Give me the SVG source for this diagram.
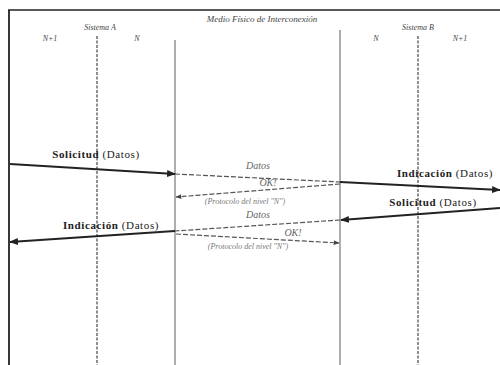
<svg xmlns="http://www.w3.org/2000/svg" width="500" height="365" viewBox="0 0 500 365">
<defs>
<style>
.t{font-family:"Liberation Serif",serif;fill:#333}
.i{font-style:italic;font-size:8px;fill:#444}
.h{font-family:"Liberation Serif",serif;font-style:italic;font-size:9px;fill:#444}
.m{font-family:"Liberation Serif",serif;font-style:italic;font-size:10px;fill:#666}
.s{font-family:"Liberation Serif",serif;font-style:italic;font-size:8px;fill:#777}
.lab{font-family:"Liberation Serif",serif;font-size:11px;fill:#222;letter-spacing:0.6px}
.thick{stroke:#222;stroke-width:2.2;fill:none}
.dash{stroke:#555;stroke-width:1.2;stroke-dasharray:5 2;fill:none}
.solid{stroke:#777;stroke-width:1.2}
.dot{stroke:#555;stroke-width:1.3;stroke-dasharray:3 1.5}
</style>
<marker id="a" viewBox="0 0 10 10" refX="9" refY="5" markerWidth="4" markerHeight="4" orient="auto"><path d="M0,1 L10,5 L0,9 z" fill="#222"/></marker>
<marker id="b" viewBox="0 0 10 10" refX="9" refY="5" markerWidth="5" markerHeight="5" orient="auto"><path d="M0,1 L10,5 L0,9 z" fill="#444"/></marker>
</defs>
<rect width="500" height="365" fill="#fff"/>
<g id="frame">
<line x1="8" y1="10" x2="500" y2="10" stroke="#222" stroke-width="1.5"/>
<line x1="9" y1="10" x2="9" y2="365" stroke="#222" stroke-width="1.8"/>
</g>
<g id="titles">
<text class="h" x="262" y="22" text-anchor="middle">Medio Físico de Interconexión</text>
<text class="t i" x="100" y="30" text-anchor="middle">Sistema A</text>
<text class="t i" x="50" y="41" text-anchor="middle">N+1</text>
<text class="t i" x="137" y="41" text-anchor="middle">N</text>
<text class="t i" x="418" y="30" text-anchor="middle">Sistema B</text>
<text class="t i" x="376" y="41" text-anchor="middle">N</text>
<text class="t i" x="460" y="41" text-anchor="middle">N+1</text>
</g>
<g id="lifelines">
<line class="dot" x1="97" y1="36" x2="97" y2="365"/>
<line class="solid" x1="175" y1="40" x2="175" y2="365"/>
<line class="solid" x1="340" y1="30" x2="340" y2="365"/>
<line class="dot" x1="418" y1="36" x2="418" y2="365"/>
</g>
<g id="connectors">
<line class="thick" x1="10" y1="164" x2="175" y2="174" marker-end="url(#a)"/>
<line class="dash" x1="175" y1="174" x2="340" y2="182"/>
<line class="thick" x1="340" y1="182" x2="500" y2="190" marker-end="url(#a)"/>
<line class="dash" x1="340" y1="184" x2="176" y2="197" marker-end="url(#b)"/>
<line class="thick" x1="500" y1="208" x2="341" y2="220" marker-end="url(#a)"/>
<line class="dash" x1="340" y1="220" x2="175" y2="231"/>
<line class="thick" x1="175" y1="231" x2="10" y2="242" marker-end="url(#a)"/>
<line class="dash" x1="176" y1="234" x2="339" y2="243" marker-end="url(#b)"/>
</g>
<g id="labels">
<text class="lab" x="96" y="158" text-anchor="middle"><tspan font-weight="bold">Solicitud</tspan> (Datos)</text>
<text class="m" x="258" y="169" text-anchor="middle">Datos</text>
<text class="m" x="268" y="186" text-anchor="middle">OK!</text>
<text class="s" x="245" y="204" text-anchor="middle">(Protocolo del nivel "N")</text>
<text class="lab" x="445" y="177" text-anchor="middle"><tspan font-weight="bold">Indicación</tspan> (Datos)</text>
<text class="lab" x="433" y="206" text-anchor="middle"><tspan font-weight="bold">Solicitud</tspan> (Datos)</text>
<text class="m" x="258" y="218" text-anchor="middle">Datos</text>
<text class="lab" x="111" y="229" text-anchor="middle"><tspan font-weight="bold">Indicación</tspan> (Datos)</text>
<text class="m" x="293" y="236" text-anchor="middle">OK!</text>
<text class="s" x="248" y="249" text-anchor="middle">(Protocolo del nivel "N")</text>
</g>
</svg>
